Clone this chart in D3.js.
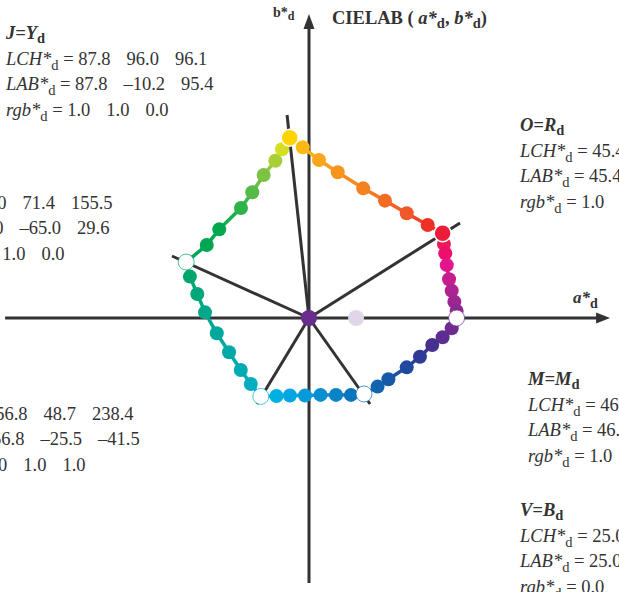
<!DOCTYPE html>
<html>
<head>
<meta charset="utf-8">
<script src="https://cdn.jsdelivr.net/npm/d3@7"></script>
<style>
  html, body { margin: 0; padding: 0; background: #fff; }
  svg { display: block; }
  text { font-family: "Liberation Serif", "Times New Roman", serif; fill: #333; }
</style>
</head>
<body>
<div id="chart"></div>
<script>
// Hue ring, CIELAB a*d / b*d, clockwise starting at yellow
const ringA = [-10.2, -3.3, 5.3, 15.2, 28.7, 40.2, 51.7, 62.8, 70.7,
  71.4, 72.1, 72.9, 74.1, 75.5, 76.9, 78.1, 78.1,
  75.5, 70.7, 65.2, 58.7, 51.7, 42.0, 36.3, 29.1,
  22.2, 14.3, 6.1, -2.1, -10.1, -17.2, -25.5,
  -30.8, -36.1, -42.3, -48.8, -55.0, -59.1, -63.0, -65.0,
  -54.1, -47.5, -36.0, -30.0, -24.0, -17.8, -14.3];
const ringB = [95.4, 90.3, 83.6, 77.1, 68.6, 62.1, 55.4, 49.2, 44.8,
  39.2, 34.2, 28.0, 20.5, 14.4, 8.6, 3.7, 0.0,
  -5.4, -10.2, -14.3, -20.5, -26.1, -32.4, -36.3, -40.2,
  -40.7, -40.7, -40.7, -41.0, -41.0, -41.3, -41.5,
  -34.9, -27.5, -18.1, -8.1, 3.0, 12.7, 21.9, 29.6,
  38.6, 46.9, 58.2, 66.5, 75.7, 83.2, 89.3];
const ringColors = ['#ffd400', '#fdb913', '#f9a61c', '#f7941d', '#f5821f', '#f26d23', '#f05729', '#ee3124', '#ed1c3c',
  '#ec1a55', '#ec0f6c', '#e4168b', '#c61d8e', '#b0228f', '#9e2690', '#8c2891', '#7b2b90',
  '#6e2c91', '#5d2e91', '#46318f', '#2e3a95', '#1f4aa0', '#1659a8', '#1264ae', '#0f6cb4',
  '#0c75bc', '#0a82c6', '#098fd0', '#079ad9', '#03a6e2', '#00b0e0', '#00afd0',
  '#00acbf', '#00aab4', '#00a8a8', '#00a79b', '#00a78b', '#00a77b', '#00a76c', '#00a65e',
  '#00a651', '#00a94f', '#2db34a', '#57b947', '#7dc242', '#a7cf38', '#d6de23'];
// primaries on the ring: J and O drawn on top, the others as white markers
const keyIdx = [0, 8];
const hollowIdx = [16, 24, 31, 39];

// spokes from the neutral point (a*, b* of the far end)
const spokeA = [-11.6, 79.9, -72.5, -27.5, 32.3];
const spokeB = [107.4, 50.3, 32.8, -45.5, -45.5];

// neutral point and the light grey point on the a* axis
const centerA = [0, 24.9];
const centerB = [0, 0];
const centerColors = ['#6a2c8f', '#e0d6e8'];

// axis extents
const aExtent = [-160.8, 159.3];
const bExtent = [-140.2, 160.8];

// data blocks for the six primaries
const blockNames = [['J', 'Y'], ['O', 'R'], ['L', 'G'], ['M', 'M'], ['C', 'C'], ['V', 'B']];
const blockLCH = [['87.8', '96.0', '96.1'], ['45.4', '83.6', '32.4'], ['80.0', '71.4', '155.5'],
  ['46.2', '78.1', '0.0'], ['56.8', '48.7', '238.4'], ['25.0', '49.6', '305.9']];
const blockLAB = [['87.8', '\u201310.2', '95.4'], ['45.4', '70.7', '44.8'], ['80.0', '\u201365.0', '29.6'],
  ['46.2', '78.1', '0.0'], ['56.8', '\u201325.5', '\u201341.5'], ['25.0', '29.1', '\u201340.2']];
const blockRGB = [['1.0', '1.0', '0.0'], ['1.0', '0.0', '0.0'], ['0.0', '1.0', '0.0'],
  ['1.0', '0.0', '1.0'], ['0.0', '1.0', '1.0'], ['0.0', '0.0', '1.0']];

const config = {
  width: 619, height: 592,
  origin: [309, 318],
  unit: 1.89,               // px per CIELAB unit
  blockPos: [[6, 39], [520, 131], [-98, 183], [528, 385], [-77, 394], [520, 516]],
  lineH: 25.7,
  fontSize: 18.5,
  subSize: 14.5,
  valueGap: 16,
  axisColor: '#333'
};

const svg = d3.select('#chart').append('svg')
    .attr('width', config.width)
    .attr('height', config.height);

const x = d3.scaleLinear()
    .domain([-100, 100])
    .range([config.origin[0] - 100 * config.unit, config.origin[0] + 100 * config.unit]);
const y = d3.scaleLinear()
    .domain([-100, 100])
    .range([config.origin[1] + 100 * config.unit, config.origin[1] - 100 * config.unit]);

// Axes with arrow heads
svg.append('line')
    .attr('x1', x(aExtent[0])).attr('x2', x(aExtent[1]) - 8)
    .attr('y1', y(0)).attr('y2', y(0))
    .attr('stroke', config.axisColor).attr('stroke-width', 3);
svg.append('line')
    .attr('x1', x(0)).attr('x2', x(0))
    .attr('y1', y(bExtent[0])).attr('y2', y(bExtent[1]) + 8)
    .attr('stroke', config.axisColor).attr('stroke-width', 3);

const ax = x(aExtent[1]), by = y(bExtent[1]);
svg.append('path')
    .attr('d', `M${ax},${y(0)} L${ax - 14},${y(0) - 5.5} L${ax - 14},${y(0) + 5.5} Z`)
    .attr('fill', config.axisColor);
svg.append('path')
    .attr('d', `M${x(0)},${by} L${x(0) - 5.5},${by + 15} L${x(0) + 5.5},${by + 15} Z`)
    .attr('fill', config.axisColor);

// Spokes to the primaries
svg.selectAll('.spoke')
    .data(spokeA.map((a, i) => [a, spokeB[i]]))
  .join('line')
    .attr('class', 'spoke')
    .attr('x1', x(0)).attr('y1', y(0))
    .attr('x2', d => x(d[0])).attr('y2', d => y(d[1]))
    .attr('stroke', config.axisColor)
    .attr('stroke-width', 3);

// Ring points
const ring = ringA.map((a, i) => ({a: a, b: ringB[i], color: ringColors[i], i: i}));
const next = d => ring[(d.i + 1) % ring.length];

// Connecting segments
svg.selectAll('.seg')
    .data(ring)
  .join('line')
    .attr('class', 'seg')
    .attr('x1', d => x(d.a)).attr('y1', d => y(d.b))
    .attr('x2', d => x(next(d).a))
    .attr('y2', d => y(next(d).b))
    .attr('stroke', d => d3.interpolateRgb(d.color, next(d).color)(0.5))
    .attr('stroke-width', 3.5);

// Plain dots
svg.selectAll('.dot')
    .data(ring.filter(d => !keyIdx.includes(d.i) && !hollowIdx.includes(d.i)))
  .join('circle')
    .attr('class', 'dot')
    .attr('cx', d => x(d.a)).attr('cy', d => y(d.b))
    .attr('r', 7)
    .attr('fill', d => d.color);

// White markers
svg.selectAll('.hollow')
    .data(ring.filter(d => hollowIdx.includes(d.i)))
  .join('circle')
    .attr('class', 'hollow')
    .attr('cx', d => x(d.a)).attr('cy', d => y(d.b))
    .attr('r', 8)
    .attr('fill', '#fff')
    .attr('stroke', d => d.color)
    .attr('stroke-opacity', 0.7)
    .attr('stroke-width', 1);

// Key primaries on top
svg.selectAll('.key')
    .data(ring.filter(d => keyIdx.includes(d.i)))
  .join('circle')
    .attr('class', 'key')
    .attr('cx', d => x(d.a)).attr('cy', d => y(d.b))
    .attr('r', 8.5)
    .attr('fill', d => d.color)
    .attr('stroke', '#fff')
    .attr('stroke-width', 1.5);

// Neutral point + light point
svg.selectAll('.center')
    .data(centerA.map((a, i) => ({a: a, b: centerB[i], color: centerColors[i]})))
  .join('circle')
    .attr('class', 'center')
    .attr('cx', d => x(d.a)).attr('cy', d => y(d.b))
    .attr('r', 8)
    .attr('fill', d => d.color);

// Axis labels and title
const bLab = svg.append('text').attr('x', 273).attr('y', 17)
    .attr('font-size', 14).attr('font-weight', 'bold');
bLab.append('tspan').text('b*');
bLab.append('tspan').attr('font-size', 12).attr('dy', 3).text('d');

const aLab = svg.append('text').attr('x', 573).attr('y', 303)
    .attr('font-size', 17).attr('font-weight', 'bold');
aLab.append('tspan').attr('font-style', 'italic').text('a*');
aLab.append('tspan').attr('font-size', 14).attr('dy', 5).text('d');

const title = svg.append('text').attr('x', 332).attr('y', 24)
    .attr('font-size', 18.5).attr('font-weight', 'bold');
title.append('tspan').text('CIELAB (\u00a0');
title.append('tspan').attr('font-style', 'italic').text('a*');
title.append('tspan').attr('font-size', 14.5).attr('dy', 4).text('d');
title.append('tspan').attr('dy', -4).text(',\u00a0');
title.append('tspan').attr('font-style', 'italic').text('b*');
title.append('tspan').attr('font-size', 14.5).attr('dy', 4).text('d');
title.append('tspan').attr('dy', -4).text(')');

// Primary data blocks
function addLine(g, yy, prefix, values) {
  const t = g.append('text').attr('y', yy).attr('font-size', config.fontSize);
  t.append('tspan').attr('font-style', 'italic').text(prefix);
  t.append('tspan').attr('font-size', config.subSize).attr('dy', 5).text('d');
  t.append('tspan').attr('dy', -5).text('\u00a0=\u00a0' + values[0]);
  values.slice(1).forEach(v => t.append('tspan').attr('dx', config.valueGap).text(v));
}

blockNames.forEach((n, i) => {
  const [bx, byy] = config.blockPos[i];
  const g = svg.append('g').attr('transform', `translate(${bx},${byy})`);
  const h = g.append('text').attr('font-size', config.fontSize).attr('font-weight', 'bold');
  h.append('tspan').attr('font-style', 'italic').text(`${n[0]}=${n[1]}`);
  h.append('tspan').attr('font-size', config.subSize).attr('dy', 4).text('d');
  addLine(g, config.lineH, 'LCH*', blockLCH[i]);
  addLine(g, config.lineH * 2, 'LAB*', blockLAB[i]);
  addLine(g, config.lineH * 3, 'rgb*', blockRGB[i]);
});
</script>
</body>
</html>
